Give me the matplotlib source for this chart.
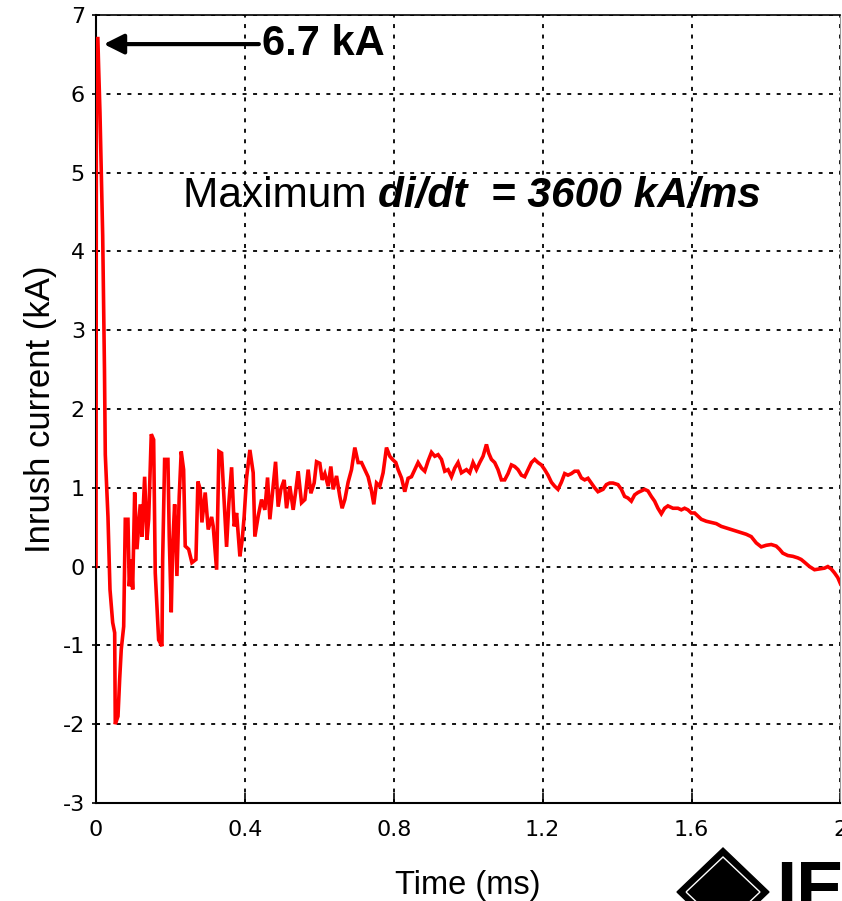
import matplotlib
matplotlib.use('Agg')
import matplotlib.pyplot as plt
from matplotlib.patches import Polygon

plt.rcParams['axes.unicode_minus'] = False

# inrush current trace
time_ms = [0.0, 0.001, 0.002, 0.005, 0.007, 0.0107, 0.018, 0.0228, 0.025,
           0.0322, 0.0376, 0.0448, 0.0502, 0.0518, 0.0591, 0.0636, 0.0679, 0.0744,
           0.0787, 0.0859, 0.0894, 0.0948, 0.0985, 0.1039, 0.1101, 0.1189, 0.1235,
           0.1307, 0.1369, 0.1415, 0.1485, 0.1549, 0.1592, 0.1683, 0.1772, 0.1791,
           0.1817, 0.1844, 0.1933, 0.1968, 0.2022, 0.2059, 0.2113, 0.2174, 0.2236,
           0.2290, 0.2354, 0.2397, 0.2489, 0.2577, 0.2685, 0.2738, 0.2800, 0.2846,
           0.2934, 0.3015, 0.3106, 0.3149, 0.3240, 0.3302, 0.3374, 0.3444, 0.3508,
           0.3570, 0.3643, 0.3713, 0.3777, 0.3866, 0.3928, 0.3981, 0.4046, 0.4134,
           0.4223, 0.4268, 0.4357, 0.4448, 0.4537, 0.4609, 0.4671, 0.4760, 0.4824,
           0.4894, 0.4966, 0.5055, 0.5119, 0.5208, 0.5297, 0.5361, 0.5431, 0.5522,
           0.5611, 0.5700, 0.5772, 0.5861, 0.5925, 0.6013, 0.6075, 0.6148, 0.6236,
           0.6309, 0.6371, 0.6462, 0.6550, 0.6612, 0.6685, 0.6773, 0.6864, 0.6953,
           0.7042, 0.7133, 0.7222, 0.7310, 0.7401, 0.7463, 0.7536, 0.7624, 0.7713,
           0.7804, 0.7893, 0.7965, 0.8054, 0.8116, 0.8207, 0.8295, 0.8384, 0.8475,
           0.8564, 0.8653, 0.8744, 0.8832, 0.8921, 0.9012, 0.9101, 0.9190, 0.9281,
           0.9369, 0.9458, 0.9549, 0.9638, 0.9726, 0.9817, 0.9952, 1.0040, 1.0129,
           1.0220, 1.0309, 1.0398, 1.0489, 1.0550, 1.0623, 1.0711, 1.0800, 1.0891,
           1.0980, 1.1069, 1.1160, 1.1248, 1.1337, 1.1428, 1.1517, 1.1606, 1.1697,
           1.1785, 1.1874, 1.1965, 1.2054, 1.2143, 1.2234, 1.2322, 1.2411, 1.2502,
           1.2591, 1.2680, 1.2771, 1.2859, 1.2948, 1.3039, 1.3128, 1.3217, 1.3307,
           1.3396, 1.3485, 1.3576, 1.3620, 1.3710, 1.3799, 1.3888, 1.4022, 1.4113,
           1.4201, 1.4290, 1.4381, 1.4470, 1.4559, 1.4649, 1.4738, 1.4827, 1.4918,
           1.5007, 1.5096, 1.5187, 1.5275, 1.5364, 1.5499, 1.5633, 1.5724, 1.5812,
           1.5901, 1.5992, 1.6081, 1.6170, 1.6261, 1.6395, 1.6529, 1.6663, 1.6797,
           1.6931, 1.7066, 1.7200, 1.7334, 1.7468, 1.7602, 1.7737, 1.7871, 1.8005,
           1.8139, 1.8273, 1.8362, 1.8451, 1.8586, 1.8720, 1.8854, 1.8944, 1.9034,
           1.9168, 1.9302, 1.9436, 1.9570, 1.9660, 1.9750, 1.9839, 1.9928, 2.0]
current_ka = [0.0, 5.8, 6.7, 6.7, 6.35, 5.76, 4.2, 2.5, 1.42,
              0.63, -0.29, -0.71, -0.84, -2.0, -1.9, -1.43, -1.05, -0.76,
              0.6, 0.6, -0.25, 0.09, -0.29, 0.94, 0.22, 0.79, 0.38,
              1.14, 0.34, 0.6, 1.68, 1.61, -0.08, -0.93, -1.01, 0.09,
              0.72, 1.36, 1.36, 0.38, -0.58, 0.26, 0.79, -0.12, 0.89,
              1.46, 1.23, 0.26, 0.22, 0.05, 0.09, 1.08, 0.98, 0.56,
              0.94, 0.47, 0.63, 0.51, -0.04, 1.46, 1.44, 0.81, 0.25,
              0.81, 1.26, 0.51, 0.68, 0.13, 0.34, 0.64, 1.13, 1.48,
              1.19, 0.38, 0.64, 0.85, 0.72, 1.13, 0.6, 1.02, 1.33,
              0.76, 0.98, 1.1, 0.74, 1.02, 0.72, 0.94, 1.21, 0.81,
              0.85, 1.23, 0.93, 1.06, 1.33, 1.31, 1.1, 1.18, 1.02,
              1.27, 0.98, 1.15, 0.89, 0.74, 0.85, 1.07, 1.23, 1.51,
              1.32, 1.32, 1.23, 1.14, 0.96, 0.79, 1.06, 1.02, 1.19,
              1.51, 1.40, 1.36, 1.32, 1.23, 1.125, 0.95, 1.12, 1.14,
              1.23, 1.32, 1.25, 1.21, 1.34, 1.45, 1.40, 1.42, 1.36,
              1.21, 1.23, 1.14, 1.25, 1.32, 1.19, 1.23, 1.19, 1.32,
              1.23, 1.32, 1.40, 1.55, 1.44, 1.36, 1.32, 1.23, 1.10,
              1.10, 1.18, 1.29, 1.27, 1.23, 1.16, 1.14, 1.23, 1.32,
              1.36, 1.32, 1.29, 1.23, 1.16, 1.07, 1.02, 0.98, 1.07,
              1.18, 1.16, 1.18, 1.21, 1.21, 1.125, 1.10, 1.12, 1.06,
              1.0, 0.95, 0.97, 0.98, 1.04, 1.06, 1.06, 1.04, 0.98,
              0.89, 0.87, 0.83, 0.91, 0.94, 0.96, 0.98, 0.96, 0.89,
              0.83, 0.74, 0.67, 0.74, 0.77, 0.74, 0.74, 0.72, 0.74,
              0.72, 0.68, 0.68, 0.64, 0.60, 0.575, 0.56, 0.545, 0.51,
              0.49, 0.47, 0.45, 0.43, 0.41, 0.38, 0.30, 0.25, 0.27,
              0.28, 0.26, 0.22, 0.17, 0.14, 0.13, 0.11, 0.09, 0.055,
              0.0, -0.04, -0.03, -0.02, 0.0, -0.03, -0.08, -0.14, -0.22]

x_ticks = [0, 0.4, 0.8, 1.2, 1.6, 2]
x_tick_labels = ['0', '0.4', '0.8', '1.2', '1.6', '2']
y_ticks = list(range(-3, 8))

fig = plt.figure(figsize=(8.42, 9.01), dpi=100)
ax = fig.add_axes([0.114, 0.1088, 0.8842, 0.8746])

ax.plot(time_ms, current_ka, color='#ff0000', lw=2.6, zorder=3,
        solid_joinstyle='miter')

ax.set_xlim(0, 2)
ax.set_ylim(-3, 7)
ax.set_xticks(x_ticks)
ax.set_xticklabels(x_tick_labels)
ax.set_yticks(y_ticks)

ax.set_axisbelow(True)
ax.grid(True, color='black', lw=1.3, linestyle=(0, (2.2, 3.6)))

for side in ['left', 'bottom']:
    ax.spines[side].set_linewidth(1.5)
ax.spines['top'].set_linewidth(1.2)
ax.spines['right'].set_color('#999999')
ax.spines['right'].set_linewidth(0.8)

ax.tick_params(axis='x', direction='in', length=7, width=1.2, pad=12,
               labelsize=16)
ax.tick_params(axis='y', direction='inout', length=6, width=1.2, pad=5,
               labelsize=16)
for lbl in ax.get_xticklabels() + ax.get_yticklabels():
    lbl.set_fontfamily('DejaVu Sans')
    lbl.set_clip_on(False)

ax.set_xlabel('Time (ms)', fontsize=23.5, family='Liberation Sans', labelpad=22)
ax.set_ylabel('Inrush current (kA)', fontsize=25, family='Liberation Sans',
              labelpad=4)

# peak annotation
ax.annotate('6.7 kA', xy=(0.021, 6.63), xytext=(0.445, 6.63),
            fontsize=30, fontweight='bold', family='Liberation Sans',
            va='center', ha='left',
            arrowprops=dict(arrowstyle='-|>', color='black', lw=3,
                            shrinkA=0, shrinkB=0))

t1 = ax.text(0.234, 4.70, 'Maximum ', fontsize=30.5, family='Liberation Sans',
             va='center', ha='left')
ax.annotate('di/dt  = 3600 kA/ms', xy=(1, 0), xycoords=t1, va='bottom',
            ha='left', fontsize=30.5, fontweight='bold', fontstyle='italic',
            family='Liberation Sans')

# logo in the corner, cut off by the figure edge
W, H = 842.0, 901.0
outer = [(677, 892), (723, 848), (769, 892), (723, 936)]
inner = [(686, 892), (723, 857), (760, 892), (723, 927)]
fig.patches.append(Polygon([(x / W, 1 - y / H) for x, y in outer],
                           closed=True, transform=fig.transFigure,
                           facecolor='black', edgecolor='black'))
fig.patches.append(Polygon([(x / W, 1 - y / H) for x, y in inner],
                           closed=True, transform=fig.transFigure,
                           facecolor='none', edgecolor='white', lw=1.0))
fig.text(776 / W, 1 - 912 / H, 'IEEE', fontsize=52, fontweight='bold',
         family='Liberation Sans', ha='left', va='baseline')

fig.savefig('out.png', dpi=100)
